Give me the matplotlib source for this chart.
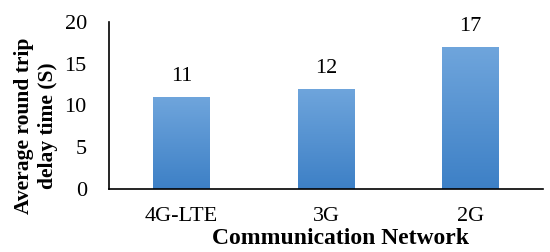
import matplotlib
matplotlib.use("Agg")
import matplotlib.pyplot as plt
import numpy as np
from matplotlib.colors import LinearSegmentedColormap

networks = ["4G-LTE", "3G", "2G"]
delay_s = [11, 12, 17]

plt.rcParams["font.family"] = ["Liberation Serif", "DejaVu Serif"]

fig = plt.figure(figsize=(5.5, 2.52), dpi=100)
ax = fig.add_axes([109 / 550, 1 - 189 / 252, 434 / 550, 167 / 252])

x = np.arange(len(networks))
bars = ax.bar(x, delay_s, width=0.39, color="none", edgecolor="none")

# vertical gradient, lighter on top
cmap = LinearSegmentedColormap.from_list("bargrad", ["#3d80c6", "#6fa5dc"])
grad = np.linspace(0, 1, 256).reshape(-1, 1)
for b in bars:
    x0, w, h = b.get_x(), b.get_width(), b.get_height()
    im = ax.imshow(grad, cmap=cmap, origin="lower", aspect="auto",
                   extent=[x0, x0 + w, 0, h], zorder=2)
    im.set_clip_path(b)
    ax.text(x0 + w / 2, h + 1.3, str(int(h)), ha="center", va="bottom", fontsize=16)

ax.set_xlim(-0.5, 2.5)
ax.set_ylim(0, 20)
ax.set_yticks([0, 5, 10, 15, 20])
ax.set_xticks(x)
ax.set_xticklabels(networks)
ax.tick_params(length=0, labelsize=16)
ax.tick_params(axis="x", pad=13)
ax.tick_params(axis="y", pad=16)
for s in ["top", "right"]:
    ax.spines[s].set_visible(False)
ax.spines["left"].set_linewidth(1.2)
ax.spines["bottom"].set_linewidth(1.2)

# axis titles placed like the original (slightly off-centre)
fig.text(341 / 550, 1 - 238 / 252, "Communication Network", fontsize=17,
         fontweight="bold", ha="center", va="center")
fig.text(36 / 550, 1 - 126 / 252, "Average round trip\ndelay time (S)", fontsize=15.5,
         fontweight="bold", ha="center", va="center", rotation=90,
         multialignment="center", linespacing=1.3)

fig.savefig("out.png", dpi=100)
